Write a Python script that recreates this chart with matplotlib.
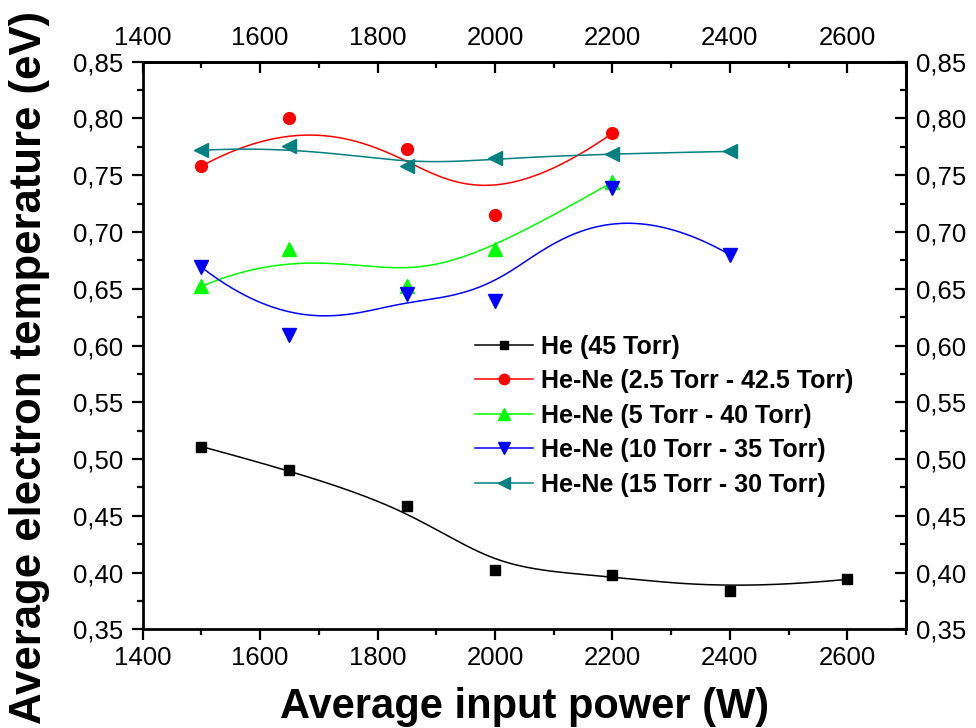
import numpy as np
import matplotlib as mpl
mpl.use('Agg')
import matplotlib.pyplot as plt
from matplotlib.ticker import MultipleLocator, FuncFormatter

plt.rcParams['font.family'] = ['Liberation Sans', 'DejaVu Sans']

# data: power (W) vs electron temperature (eV)
power_he = [1500, 1650, 1850, 2000, 2200, 2400, 2600]
te_he = [0.511, 0.490, 0.459, 0.402, 0.398, 0.384, 0.394]

power_25 = [1500, 1650, 1850, 2000, 2200]
te_25 = [0.758, 0.800, 0.773, 0.715, 0.787]

power_5 = [1500, 1650, 1850, 2000, 2200]
te_5 = [0.652, 0.685, 0.652, 0.685, 0.744]

power_10 = [1500, 1650, 1850, 2000, 2200, 2400]
te_10 = [0.669, 0.609, 0.645, 0.639, 0.739, 0.680]

power_15 = [1500, 1650, 1850, 2000, 2200, 2400]
te_15 = [0.772, 0.776, 0.758, 0.765, 0.769, 0.771]

labels = ['He (45 Torr)',
          'He-Ne (2.5 Torr - 42.5 Torr)',
          'He-Ne (5 Torr - 40 Torr)',
          'He-Ne (10 Torr - 35 Torr)',
          'He-Ne (15 Torr - 30 Torr)']


def bspline(x, y, n=300, k=3):
    # clamped uniform B-spline using the data points as control points
    p = np.column_stack([x, y]).astype(float)
    m = len(p)
    k = min(k, m - 1)
    knots = np.concatenate([np.zeros(k), np.linspace(0, 1, m - k + 1), np.ones(k)])
    t = np.linspace(0, 1, n)
    N = np.zeros((n, len(knots) - 1))
    for i in range(len(knots) - 1):
        N[:, i] = (knots[i] <= t) & (t < knots[i + 1])
    N[t >= 1, m - 1] = 1
    for d in range(1, k + 1):
        Nn = np.zeros((n, len(knots) - 1 - d))
        for i in range(len(knots) - 1 - d):
            a = knots[i + d] - knots[i]
            b = knots[i + d + 1] - knots[i + 1]
            term = np.zeros(n)
            if a > 0:
                term += (t - knots[i]) / a * N[:, i]
            if b > 0:
                term += (knots[i + d + 1] - t) / b * N[:, i + 1]
            Nn[:, i] = term
        N = Nn
    c = N @ p
    return c[:, 0], c[:, 1]


series = [
    (power_he, te_he, 'black', 's', 7),
    (power_25, te_25, '#ff0000', 'o', 8.5),
    (power_5, te_5, '#00ff00', '^', 10),
    (power_10, te_10, '#0000ff', 'v', 10),
    (power_15, te_15, '#008080', '<', 10),
]

fig = plt.figure(figsize=(9.76, 7.28), dpi=100)
ax = fig.add_axes([0.1462, 0.1356, 0.7821, 0.7796])

for (x, y, col, mk, ms), lab in zip(series, labels):
    sx, sy = bspline(x, y)
    ax.plot(sx, sy, color=col, lw=1.1)
    ax.plot(x, y, ls='none', marker=mk, ms=ms, color=col, mec=col)
    ax.plot([], [], color=col, lw=1.1, marker=mk, ms=ms - 1, mec=col, label=lab)

ax.set_xlim(1400, 2700)
ax.set_ylim(0.35, 0.85)

comma = FuncFormatter(lambda v, pos: ('%.2f' % v).replace('.', ','))

ax.xaxis.set_major_locator(MultipleLocator(200))
ax.xaxis.set_minor_locator(MultipleLocator(100))
ax.yaxis.set_major_locator(MultipleLocator(0.05))
ax.yaxis.set_minor_locator(MultipleLocator(0.025))
ax.yaxis.set_major_formatter(comma)

ax.tick_params(which='both', direction='out', width=1.6, labelsize=18.5)
ax.tick_params(which='major', length=8)
ax.tick_params(which='minor', length=4)
ax.tick_params(axis='x', pad=4)
ax.tick_params(axis='y', pad=6)
for s in ax.spines.values():
    s.set_linewidth(2)

top = ax.secondary_xaxis('top')
top.xaxis.set_major_locator(MultipleLocator(200))
top.xaxis.set_minor_locator(MultipleLocator(100))
top.tick_params(which='both', direction='in', width=1.6, labelsize=18.5, pad=8.5)
top.tick_params(which='major', length=8)
top.tick_params(which='minor', length=4)
top.spines['top'].set_linewidth(2)

right = ax.secondary_yaxis('right')
right.yaxis.set_major_locator(MultipleLocator(0.05))
right.yaxis.set_minor_locator(MultipleLocator(0.025))
right.yaxis.set_major_formatter(comma)
right.tick_params(which='both', direction='in', width=1.6, labelsize=18.5, pad=7.5)
right.tick_params(which='major', length=8)
right.tick_params(which='minor', length=4)
right.spines['right'].set_linewidth(2)

ax.set_xlabel('Average input power (W)', fontsize=30, fontweight='bold')
ax.set_ylabel('Average electron temperature (eV)', fontsize=31.5, fontweight='bold')
ax.xaxis.set_label_coords(0.5, -0.101)
ax.yaxis.set_label_coords(-0.121, 0.462)

leg = ax.legend(loc='upper left', bbox_to_anchor=(0.435, 0.519), frameon=False,
                borderpad=0, borderaxespad=0, handlelength=2.35, handletextpad=0.3,
                labelspacing=0.42, prop={'size': 18, 'weight': 'bold'})

fig.savefig('out.png', dpi=100)
